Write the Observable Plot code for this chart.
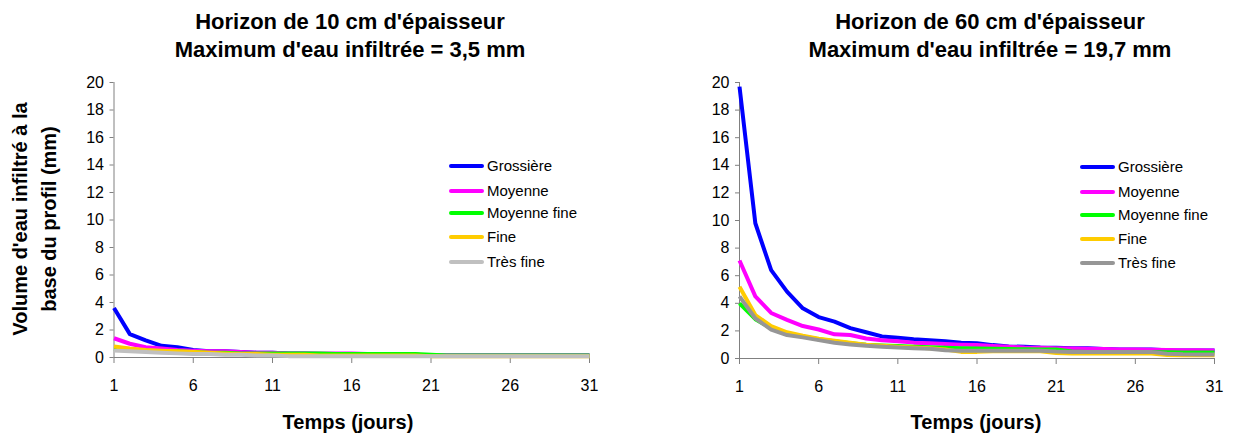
<!DOCTYPE html>
<html><head><meta charset="utf-8">
<script src="https://cdn.jsdelivr.net/npm/d3@7"></script>
<script src="https://cdn.jsdelivr.net/npm/@observablehq/plot@0.6"></script>
<style>
body{margin:0;background:#fff;font-family:"Liberation Sans",Arial,sans-serif;}
#wrap{position:relative;width:1233px;height:434px;overflow:hidden;background:#fff}
.abs{position:absolute;white-space:nowrap;color:#000}
.title{font-weight:bold;font-size:22px;line-height:28px;text-align:center;transform:translateX(-50%)}
.xlab{font-weight:bold;font-size:20px;line-height:24px;transform:translate(-50%,-50%)}
.ylab{font-weight:bold;font-size:20px;line-height:29px;text-align:center;transform:translate(-50%,-50%) rotate(-90deg)}
.leg{font-size:15px;line-height:18px;display:flex;align-items:center;transform:translateY(-50%)}
.leg span.sw{display:inline-block;width:35px;height:4px;margin-right:3px;border-radius:2px}
svg{position:absolute;top:0}
</style>
</head><body>
<div id="wrap"></div>
<script>
// ---- data ----
const days = [1,2,3,4,5,6,7,8,9,10,11,12,13,14,15,16,17,18,19,20,21,22,23,24,25,26,27,28,29,30,31];
const xTicks = [1,6,11,16,21,26,31];
const yTicks = [0,2,4,6,8,10,12,14,16,18,20];
const seriesNames = ["Grossière","Moyenne","Moyenne fine","Fine","Très fine"];
const colors10 = ["#0000FF","#FF00FF","#00FF00","#FFCC00","#C0C0C0"];
const colors60 = ["#0000FF","#FF00FF","#00FF00","#FFCC00","#969696"];
const titles10 = ["Horizon de 10 cm d'épaisseur","Maximum d'eau infiltrée = 3,5 mm"];
const titles60 = ["Horizon de 60 cm d'épaisseur","Maximum d'eau infiltrée = 19,7 mm"];
const xLabel = "Temps (jours)";
const yLabel = ["Volume d'eau infiltré à la","base du profil (mm)"];

// Horizon 10 cm
const grossiere10   = [3.6,1.7,1.25,0.85,0.75,0.55,0.45,0.45,0.4,0.35,0.35,0.3,0.3,0.25,0.25,0.25,0.2,0.2,0.2,0.2,0.15,0.15,0.15,0.15,0.15,0.15,0.15,0.15,0.15,0.15,0.15];
const moyenne10     = [1.4,1.0,0.75,0.65,0.55,0.5,0.45,0.45,0.4,0.35,0.35,0.3,0.3,0.3,0.3,0.3,0.25,0.25,0.25,0.2,0.15,0.15,0.15,0.15,0.15,0.15,0.15,0.15,0.15,0.15,0.15];
const moyFine10     = [0.6,0.55,0.5,0.45,0.45,0.4,0.35,0.35,0.3,0.3,0.3,0.3,0.3,0.3,0.25,0.25,0.25,0.25,0.25,0.25,0.2,0.15,0.15,0.15,0.15,0.15,0.15,0.15,0.15,0.15,0.15];
const fine10        = [0.8,0.65,0.55,0.5,0.45,0.4,0.35,0.3,0.25,0.25,0.2,0.2,0.2,0.15,0.15,0.15,0.15,0.15,0.15,0.15,0.1,0.1,0.1,0.1,0.1,0.1,0.1,0.1,0.1,0.1,0.1];
const tresFine10    = [0.5,0.45,0.4,0.35,0.3,0.25,0.25,0.2,0.2,0.15,0.15,0.1,0.1,0.1,0.1,0.1,0.1,0.1,0.1,0.1,0.1,0.1,0.1,0.1,0.1,0.1,0.1,0.1,0.1,0.1,0.1];

// Horizon 60 cm
const grossiere60   = [19.7,9.8,6.4,4.85,3.64,3.0,2.67,2.2,1.9,1.6,1.5,1.4,1.33,1.25,1.15,1.1,0.97,0.87,0.85,0.8,0.78,0.75,0.75,0.68,0.65,0.65,0.65,0.6,0.58,0.58,0.58];
const moyenne60     = [7.1,4.5,3.3,2.8,2.35,2.1,1.75,1.7,1.45,1.33,1.25,1.15,1.1,1.05,1.0,0.97,0.9,0.85,0.8,0.78,0.75,0.72,0.7,0.68,0.66,0.65,0.63,0.62,0.6,0.6,0.58];
const moyFine60     = [4.0,2.85,2.2,1.8,1.6,1.4,1.25,1.1,1.0,0.95,0.9,0.85,0.82,0.78,0.75,0.73,0.7,0.68,0.67,0.66,0.65,0.5,0.48,0.47,0.46,0.46,0.45,0.45,0.44,0.44,0.44];
const fine60        = [5.2,3.15,2.35,1.9,1.65,1.43,1.28,1.14,1.0,0.92,0.85,0.8,0.75,0.65,0.48,0.48,0.53,0.53,0.53,0.53,0.4,0.36,0.36,0.36,0.36,0.36,0.36,0.26,0.24,0.24,0.24];
const tresFine60    = [4.5,2.9,2.1,1.7,1.53,1.33,1.14,1.02,0.92,0.85,0.8,0.75,0.7,0.6,0.56,0.56,0.56,0.56,0.56,0.56,0.5,0.48,0.48,0.48,0.48,0.48,0.48,0.35,0.3,0.29,0.29];

const series10 = [grossiere10, moyenne10, moyFine10, fine10, tresFine10];
const series60 = [grossiere60, moyenne60, moyFine60, fine60, tresFine60];

const wrap = document.getElementById("wrap");
const axisGray = "#808080";

function makeChart(series, colors, cfg) {
  const rows = [];
  series.forEach((vals, s) => vals.forEach((v, i) => rows.push({serie: seriesNames[s], day: days[i], v})));
  const svg = Plot.plot({
    width: cfg.width, height: 434,
    marginLeft: cfg.ml, marginRight: cfg.mr, marginTop: 82, marginBottom: cfg.mb,
    style: {fontFamily: '"Liberation Sans", Arial, sans-serif', fontSize: "16px", color: "#000", background: "transparent", overflow: "visible"},
    x: {domain: [1, 31]},
    y: {domain: [0, 20]},
    color: {domain: seriesNames, range: colors},
    marks: [
      Plot.axisY(yTicks, {tickSize: 4, tickPadding: 6, label: null}),
      Plot.axisX(xTicks, {tickSize: 6, tickPadding: 16, label: null}),
      Plot.ruleX([1], {stroke: axisGray}),
      Plot.ruleY([0], {stroke: axisGray}),
      Plot.line(rows, {x: "day", y: "v", z: "serie", stroke: "serie", strokeWidth: 4, strokeLinejoin: "round", strokeLinecap: "butt"})
    ]
  });
  d3.select(svg).selectAll('g[aria-label$="axis tick"]').attr("stroke", axisGray);
  svg.style.left = cfg.left + "px";
  wrap.appendChild(svg);

  // titles
  const t = document.createElement("div");
  t.className = "abs title";
  t.style.left = cfg.titleX + "px"; t.style.top = "8px";
  t.innerHTML = cfg.titles.map(s => `<div>${s}</div>`).join("");
  wrap.appendChild(t);

  // x label
  const xl = document.createElement("div");
  xl.className = "abs xlab";
  xl.style.left = cfg.xlabX + "px"; xl.style.top = cfg.xlabY + "px";
  xl.textContent = xLabel;
  wrap.appendChild(xl);

  // legend
  seriesNames.forEach((name, i) => {
    const d = document.createElement("div");
    d.className = "abs leg";
    d.style.left = cfg.legX + "px"; d.style.top = cfg.legY[i] + "px";
    d.innerHTML = `<span class="sw" style="background:${colors[i]}"></span><span>${name}</span>`;
    wrap.appendChild(d);
  });
}

makeChart(series10, colors10, {width: 616, left: 0, ml: 113.5, mr: 27, mb: 77, titleX: 350, titles: titles10,
  xlabX: 348, xlabY: 422, legX: 449, legY: [166,191,213,237,262]});
makeChart(series60, colors60, {width: 616, left: 617, ml: 122, mr: 19, mb: 76, titleX: 990, titles: titles60,
  xlabX: 976, xlabY: 422, legX: 1080, legY: [167,192,215,239,263]});

// y label (left chart only)
const yl = document.createElement("div");
yl.className = "abs ylab";
yl.style.left = "35px"; yl.style.top = "219px";
yl.innerHTML = yLabel.map(s => `<div>${s}</div>`).join("");
wrap.appendChild(yl);
</script>
</body></html>
